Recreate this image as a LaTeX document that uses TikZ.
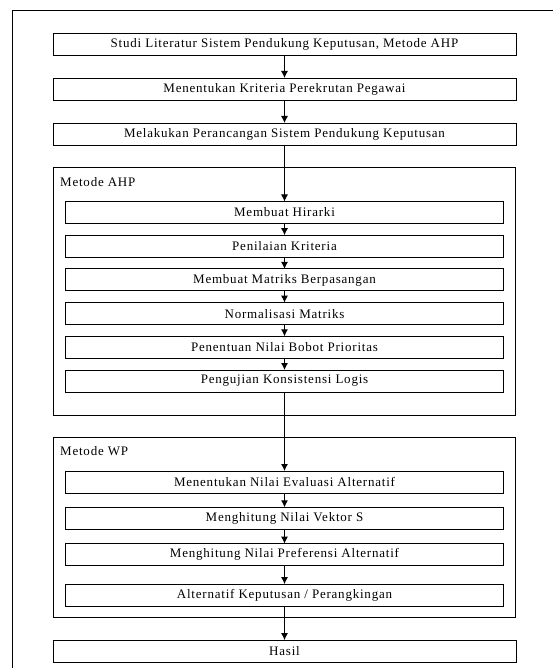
\documentclass[tikz,border=0pt]{standalone}
\usepackage{fontspec}
\setmainfont{Liberation Serif}[LetterSpace=6.0]
\usepackage{tikz}
\usetikzlibrary{arrows.meta,positioning,fit,calc}

\tikzset{
  stepbox/.style={draw, line width=0.9pt, minimum width=463pt, minimum height=22pt, inner sep=0pt, outer sep=0pt},
  substep/.style={stepbox, minimum width=438pt},
  groupbox/.style={draw, line width=0.9pt, inner xsep=12pt, inner ysep=0pt, outer sep=0pt},
  grouplabel/.style={anchor=west, inner sep=0pt}
}

\begin{document}
\begin{tikzpicture}[x=1pt,y=1pt,node distance=23pt,font=\fontsize{13}{15}\selectfont]
  \useasboundingbox (0,0) rectangle (553,-668);
  \draw[line width=0.9pt] (12.5,-10) rectangle (580,-700);

  \node[stepbox] (studi) at (284.5,-44) {Studi Literatur Sistem Pendukung Keputusan, Metode AHP};
  \node[stepbox] (kriteria) [below=of studi] {Menentukan Kriteria Perekrutan Pegawai};
  \node[stepbox] (rancang) [below=of kriteria] {Melakukan Perancangan Sistem Pendukung Keputusan};

  % metode AHP
  \node[substep] (hirarki) [below=56.5pt of rancang] {Membuat Hirarki};
  \node[substep] (penilaian) [below=11.7pt of hirarki] {Penilaian Kriteria};
  \node[substep] (matriks) [below=11.7pt of penilaian] {Membuat Matriks Berpasangan};
  \node[substep] (normal) [below=11.7pt of matriks] {Normalisasi Matriks};
  \node[substep] (bobot) [below=11.7pt of normal] {Penentuan Nilai Bobot Prioritas};
  \node[substep] (uji) [below=11.7pt of bobot] {Pengujian Konsistensi Logis};
  \coordinate (ahptop) at ([yshift=34.2pt]hirarki.north west);
  \coordinate (ahpbot) at ([yshift=-23pt]uji.south east);
  \node[groupbox, fit=(ahptop)(ahpbot)] (ahp) {};
  \node[grouplabel] (ahplbl) at ([xshift=6.5pt,yshift=-15pt]ahp.north west) {Metode AHP};

  % metode WP
  \node[substep] (evaluasi) [below=79pt of uji] {Menentukan Nilai Evaluasi Alternatif};
  \node[substep] (vektor) [below=14.3pt of evaluasi] {Menghitung Nilai Vektor S};
  \node[substep] (preferensi) [below=14.3pt of vektor] {Menghitung Nilai Preferensi Alternatif};
  \node[substep] (ranking) [below=18.5pt of preferensi] {Alternatif Keputusan / Perangkingan};
  \coordinate (wptop) at ([yshift=33.3pt]evaluasi.north west);
  \coordinate (wpbot) at ([yshift=-11.7pt]ranking.south east);
  \node[groupbox, fit=(wptop)(wpbot)] (wp) {};
  \node[grouplabel] (wplbl) at ([xshift=6.5pt,yshift=-13.5pt]wp.north west) {Metode WP};

  \node[stepbox] (hasil) [below=34pt of ranking] {Hasil};

  \path[draw,->,>={Latex[length=7pt,width=7pt]},line width=0.9pt]
    (studi) edge (kriteria)
    (kriteria) edge (rancang)
    (rancang) edge (hirarki)
    (hirarki) edge (penilaian)
    (penilaian) edge (matriks)
    (matriks) edge (normal)
    (normal) edge (bobot)
    (bobot) edge (uji)
    (uji) edge (evaluasi)
    (evaluasi) edge (vektor)
    (vektor) edge (preferensi)
    (preferensi) edge (ranking)
    (ranking) edge (hasil);
\end{tikzpicture}
\end{document}
